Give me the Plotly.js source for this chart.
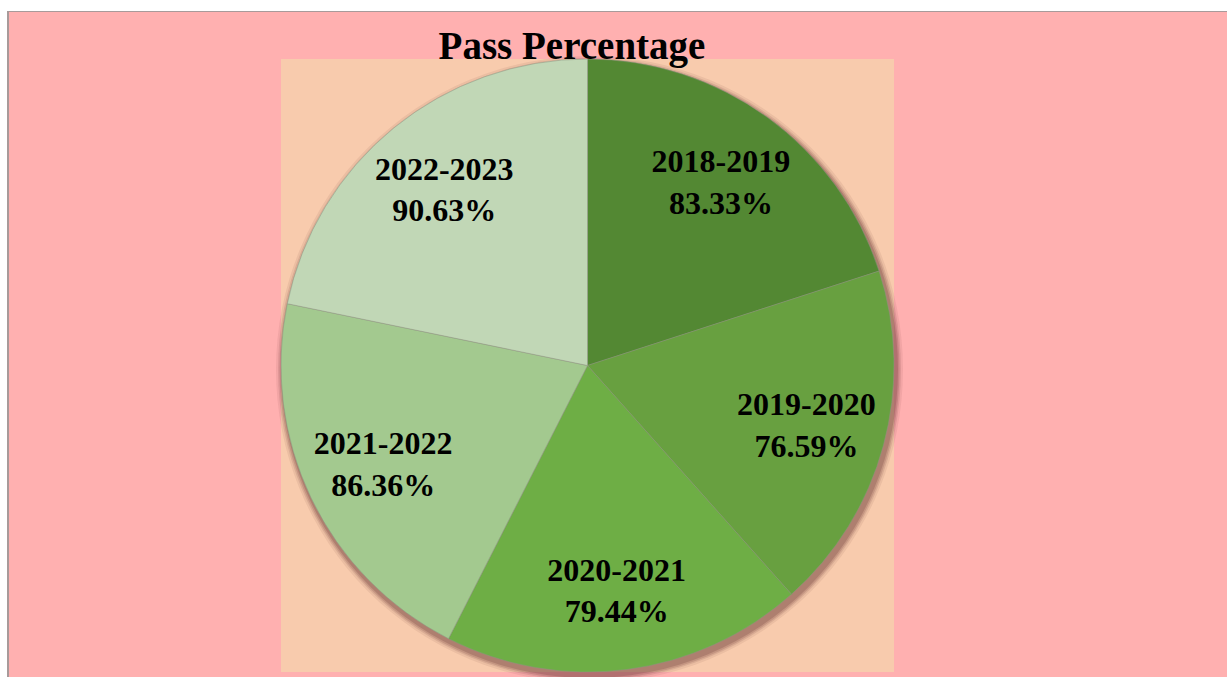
<!DOCTYPE html>
<html>
<head>
<meta charset="utf-8">
<script src="https://cdn.plot.ly/plotly-3.0.1.min.js"></script>
<style>
html, body { margin: 0; padding: 0; background: #ffffff; width: 1227px; height: 677px; overflow: hidden; }
#wrap { position: absolute; left: 7px; top: 11px; border-top: 1px solid #a89a9a; border-left: 2px solid #a89a9a; }
#chart { width: 1219px; height: 665px; }
</style>
</head>
<body>
<div id="wrap"><div id="chart"></div></div>
<script>
const years = ["2018-2019", "2019-2020", "2020-2021", "2021-2022", "2022-2023"];
const passPct = [83.33, 76.59, 79.44, 86.36, 90.63];
const sliceColors = ["#538833", "#68a040", "#6eae45", "#a3c98f", "#c1d7b6"];

const W = 1219, H = 665;
const pieLeft = 272, pieRight = 885, pieTop = 47, pieBottom = 660;
const dom = {
  x: [pieLeft / W, pieRight / W],
  y: [(H - pieBottom) / H, (H - pieTop) / H]
};
const cx = (dom.x[0] + dom.x[1]) / 2;
const cy = (dom.y[0] + dom.y[1]) / 2;
const R = (pieRight - pieLeft) / 2;

const shapes = [
  { type: "rect", xref: "paper", yref: "paper", x0: dom.x[0], x1: dom.x[1], y0: dom.y[0], y1: dom.y[1],
    fillcolor: "#f8cbad", line: { width: 0 }, layer: "below" }
];
const shadowSteps = [[7, 0.08], [5, 0.12], [3.5, 0.16], [2, 0.2]];
shadowSteps.forEach(([grow, op]) => {
  shapes.push({
    type: "circle", xref: "paper", yref: "paper",
    xsizemode: "pixel", ysizemode: "pixel",
    xanchor: cx, yanchor: cy,
    x0: -R - grow + 2, x1: R + grow + 2, y0: -R - grow - 4, y1: R + grow - 4,
    fillcolor: "rgba(90,40,40," + op + ")", line: { width: 0 }, layer: "below"
  });
});

const labelFont = { family: "'Times New Roman', 'Liberation Serif', serif", size: 32, color: "#000000", weight: "bold" };

const data = [
  {
    type: "pie",
    labels: years,
    values: passPct,
    sort: false,
    direction: "clockwise",
    rotation: 0,
    domain: dom,
    marker: { colors: sliceColors, line: { color: "rgba(140,150,130,0.6)", width: 0.8 } },
    textinfo: "none",
    hoverinfo: "skip",
    showlegend: false
  },
  {
    type: "pie",
    labels: years,
    values: passPct,
    sort: false,
    direction: "clockwise",
    rotation: 0,
    domain: dom,
    hole: 0.48,
    marker: { colors: years.map(() => "rgba(0,0,0,0)"), line: { width: 0 } },
    texttemplate: "%{label}<br>%{value:.2f}%",
    textposition: "inside",
    insidetextorientation: "horizontal",
    textfont: labelFont,
    hoverinfo: "label+value",
    showlegend: false
  }
];

const layout = {
  width: W, height: H,
  margin: { l: 0, r: 0, t: 0, b: 0 },
  paper_bgcolor: "#ffb0b0",
  title: {
    text: "<b>Pass Percentage</b>",
    font: { family: "'Times New Roman', 'Liberation Serif', serif", size: 39, color: "#000000" },
    x: 563 / W, xanchor: "center",
    y: 1 - 33 / H, yanchor: "middle", yref: "container"
  },
  shapes: shapes,
  showlegend: false
};

Plotly.newPlot("chart", data, layout, { displayModeBar: false, staticPlot: true });
</script>
</body>
</html>
